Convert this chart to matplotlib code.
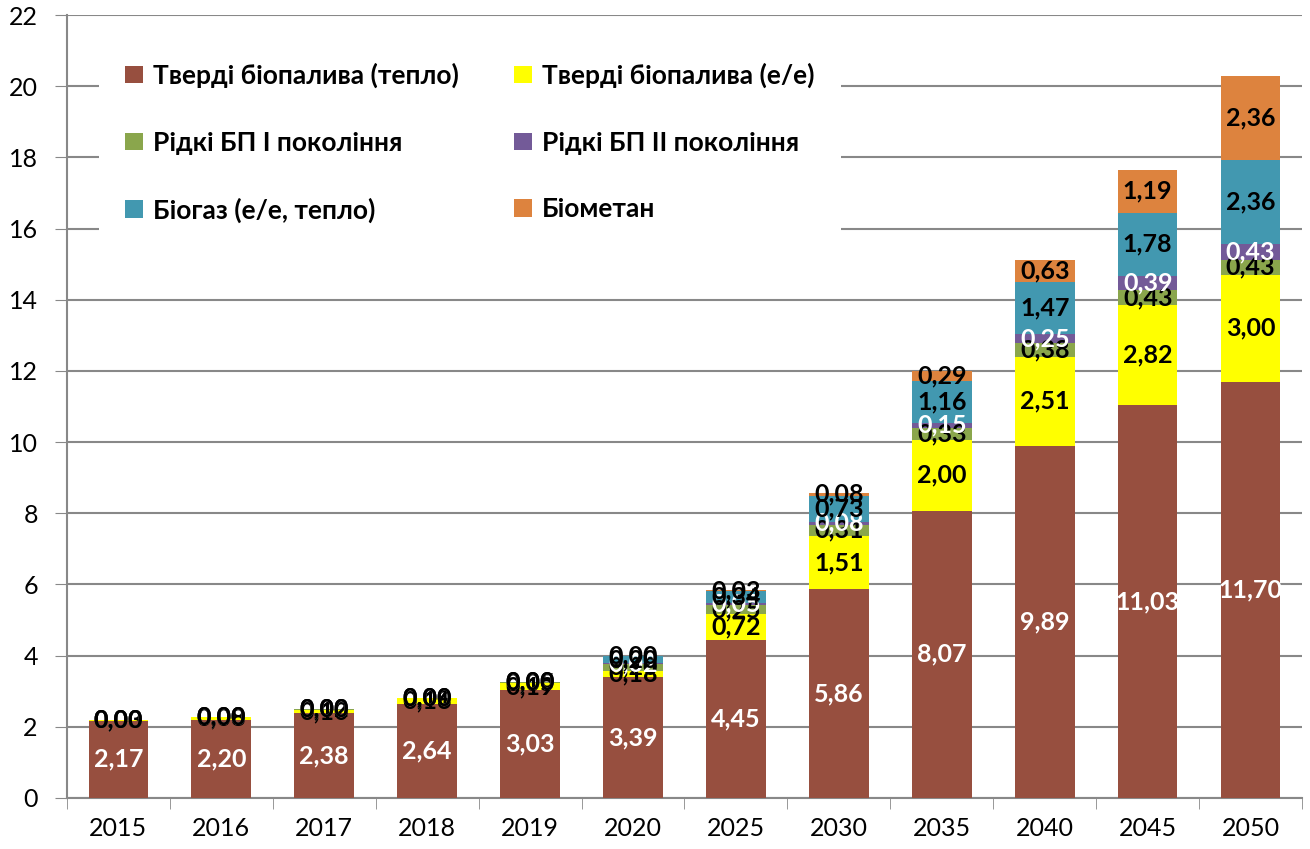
import numpy as np
import matplotlib
matplotlib.use("Agg")
import matplotlib.pyplot as plt
from matplotlib.patches import Patch

plt.rcParams['font.family'] = ['Lato', 'DejaVu Sans']

years = ['2015', '2016', '2017', '2018', '2019', '2020',
         '2025', '2030', '2035', '2040', '2045', '2050']

series_names = ['Тверді біопалива (тепло)', 'Тверді біопалива (е/е)',
                'Рідкі БП І покоління', 'Рідкі БП ІІ покоління',
                'Біогаз (е/е, тепло)', 'Біометан']

solid_heat = [2.17, 2.20, 2.38, 2.64, 3.03, 3.39, 4.45, 5.86, 8.07, 9.89, 11.03, 11.70]
solid_el = [0.03, 0.08, 0.10, 0.16, 0.19, 0.18, 0.72, 1.51, 2.00, 2.51, 2.82, 3.00]
liquid_1 = [0.00, 0.00, 0.02, 0.01, 0.05, 0.20, 0.25, 0.31, 0.33, 0.38, 0.43, 0.43]
liquid_2 = [0.00, 0.00, 0.00, 0.00, 0.00, 0.02, 0.05, 0.08, 0.15, 0.25, 0.39, 0.43]
biogas = [0.00, 0.00, 0.00, 0.00, 0.00, 0.20, 0.34, 0.73, 1.16, 1.47, 1.78, 2.36]
biomethane = [0.00, 0.00, 0.00, 0.00, 0.00, 0.00, 0.03, 0.08, 0.29, 0.63, 1.19, 2.36]

all_series = [solid_heat, solid_el, liquid_1, liquid_2, biogas, biomethane]
colors = ['#974F3F', '#FFFF00', '#8AA64C', '#735A98', '#4298B0', '#DD833E']
label_colors = ['white', 'black', 'black', 'white', 'black', 'black']

fig = plt.figure(figsize=(13.1, 8.49), dpi=100)
ax = fig.add_axes([0.0511, 0.0601, 0.9428, 0.9222])

x = np.arange(len(years))
bottom = np.zeros(len(years))
for vals, col, lc in zip(all_series, colors, label_colors):
    vals = np.array(vals)
    ax.bar(x, vals, width=0.58, bottom=bottom, color=col, zorder=3)
    for xi, b, v in zip(x, bottom, vals):
        ax.text(xi, b + v / 2, f'{v:.2f}'.replace('.', ','), ha='center', va='center',
                color=lc, fontsize=18, fontweight='bold', zorder=4)
    bottom += vals

ax.set_xlim(-0.5, len(years) - 0.5)
ax.set_ylim(0, 22)
ax.set_yticks(np.arange(0, 23, 2))
ax.set_xticks(x)
ax.set_xticklabels(years)
ax.set_xticks(np.arange(-0.5, len(years), 1), minor=True)
ax.tick_params(axis='x', which='major', length=0, labelsize=18, pad=14)
ax.tick_params(axis='x', which='minor', length=8, color='#888888', direction='out')
ax.tick_params(axis='y', length=9, color='#888888', labelsize=18, pad=12)
ax.yaxis.grid(True, color='#888888', linewidth=1.5, zorder=0)
for side in ['top', 'right']:
    ax.spines[side].set_visible(False)
for side in ['left', 'bottom']:
    ax.spines[side].set_color('#888888')
    ax.spines[side].set_linewidth(1.5)

order = [0, 2, 4, 1, 3, 5]
handles = [Patch(facecolor=colors[i], edgecolor='none') for i in order]
labels = [series_names[i] for i in order]
leg = ax.legend(handles, labels, ncol=2, loc='upper left', bbox_to_anchor=(0.026, 0.973),
                frameon=True, facecolor='white', edgecolor='none', framealpha=1,
                prop={'size': 19, 'weight': 'bold'}, handlelength=0.65, handleheight=0.65,
                handletextpad=0.4, labelspacing=1.62, columnspacing=2.1, borderpad=1.0,
                borderaxespad=0)
leg.set_zorder(5)

fig.savefig('out.png', dpi=100)
